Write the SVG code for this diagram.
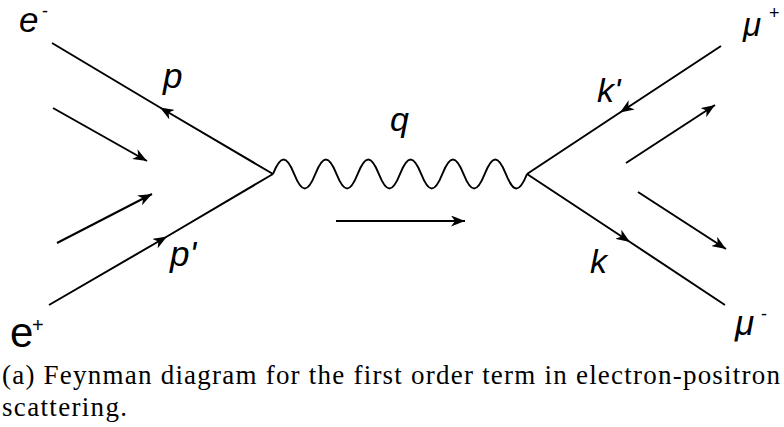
<svg xmlns="http://www.w3.org/2000/svg" width="784" height="427" viewBox="0 0 784 427">
<style>
.ln{stroke:#000;stroke-width:2;fill:none}
.lbl{font-family:"Liberation Sans",Arial,sans-serif;fill:#000}
.it{font-style:italic}
.cap{font-family:"Liberation Serif","Times New Roman",serif;font-size:27px;fill:#000}
</style>
<defs>
<marker id="ah" markerUnits="userSpaceOnUse" markerWidth="15" markerHeight="11" refX="14" refY="5.5" orient="auto" viewBox="0 0 15 11">
<path d="M0,0 L14,5.5 L0,11 L4,5.5 Z" fill="#000"/>
</marker>
</defs>
<rect width="784" height="427" fill="#fff"/>
<g id="connectors">
<path class="ln" d="M273,174 L160,107.5 L52,43" marker-mid="url(#ah)"/>
<path class="ln" d="M49,305 L167,236.5 L273,174" marker-mid="url(#ah)"/>
<path class="ln" d="M721,46 L620,112.5 L527,174" marker-mid="url(#ah)"/>
<path class="ln" d="M527,174 L630,242 L725,305" marker-mid="url(#ah)"/>
<path id="photon" class="ln" d="M273,174 c7.71,-19.33 13.46,-19.33 21.17,0 c7.71,19.33 13.46,19.33 21.17,0 c7.71,-19.33 13.46,-19.33 21.17,0 c7.71,19.33 13.46,19.33 21.17,0 c7.71,-19.33 13.46,-19.33 21.17,0 c7.71,19.33 13.46,19.33 21.17,0 c7.71,-19.33 13.46,-19.33 21.17,0 c7.71,19.33 13.46,19.33 21.17,0 c7.71,-19.33 13.46,-19.33 21.17,0 c7.71,19.33 13.46,19.33 21.17,0 c7.71,-19.33 13.46,-19.33 21.17,0 c7.71,19.33 13.46,19.33 21.17,0"/>
<line class="ln" x1="53" y1="108" x2="147" y2="161" marker-end="url(#ah)"/>
<line class="ln" x1="57" y1="243" x2="152" y2="194" marker-end="url(#ah)"/>
<line class="ln" x1="336" y1="221" x2="465" y2="221" marker-end="url(#ah)"/>
<line class="ln" x1="626" y1="163" x2="715" y2="105" marker-end="url(#ah)"/>
<line class="ln" x1="638" y1="192" x2="726" y2="249" marker-end="url(#ah)"/>
</g>
<g id="e-minus">
<text class="lbl it" x="19" y="32" font-size="35">e</text>
<text class="lbl" x="42" y="17" font-size="18">-</text>
</g>
<g id="e-plus">
<text class="lbl" x="10" y="347" font-size="42">e</text>
<text class="lbl" x="32" y="332" font-size="20">+</text>
</g>
<g id="mu-plus">
<text class="lbl it" x="743" y="36" font-size="33">μ</text>
<text class="lbl" x="769" y="19" font-size="18">+</text>
</g>
<g id="mu-minus">
<text class="lbl it" x="735" y="335" font-size="35">μ</text>
<text class="lbl" x="761" y="320" font-size="18">-</text>
</g>
<g id="labels">
<text class="lbl it" x="163" y="88" font-size="35">p</text>
<text class="lbl it" x="170" y="266" font-size="35">p'</text>
<text class="lbl it" x="390" y="131" font-size="34">q</text>
<text class="lbl it" x="597" y="102" font-size="34">k'</text>
<text class="lbl it" x="590" y="273" font-size="34">k</text>
</g>
<g id="caption">
<text class="cap" x="2" y="384" textLength="778" lengthAdjust="spacing">(a) Feynman diagram for the first order term in electron-positron</text>
<text class="cap" x="2" y="416" textLength="125" lengthAdjust="spacing">scattering.</text>
</g>
</svg>
